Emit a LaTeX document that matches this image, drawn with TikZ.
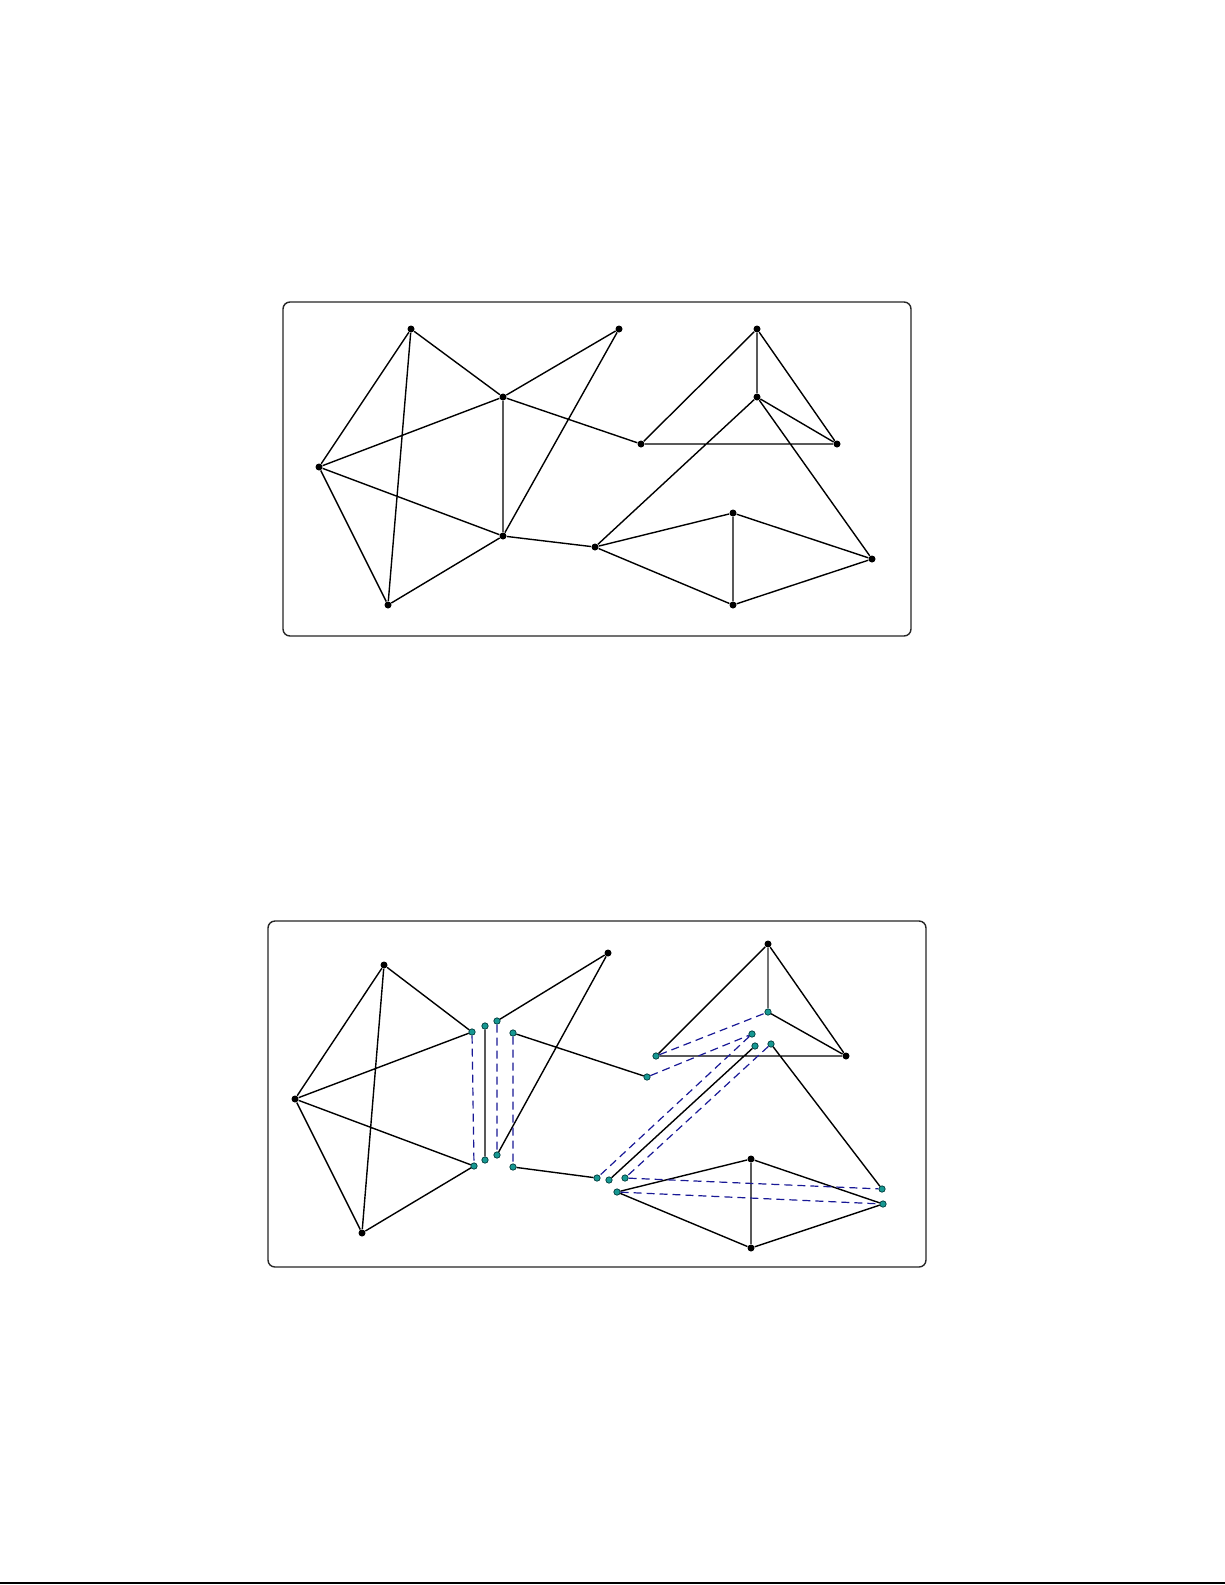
\documentclass[tikz,border=0pt]{standalone}
\begin{document}
\begin{tikzpicture}[x=0.5pt,y=-0.5pt,
  edge/.style={line width=0.7pt,black},
  cut/.style={line width=0.6pt,draw=dashblue,dash pattern=on 4pt off 2.5pt},
  frame/.style={line width=0.7pt,draw=black!85,rounded corners=3.5pt},
  bd/.style={circle,fill=black,inner sep=0pt,minimum size=3.5pt},
  td/.style={circle,fill=tealdot,draw=tealedge,line width=0.35pt,inner sep=0pt,minimum size=3.2pt}]
\definecolor{tealdot}{RGB}{22,152,146}
\definecolor{tealedge}{RGB}{0,60,60}
\definecolor{dashblue}{RGB}{25,25,150}
\useasboundingbox (0,0) rectangle (1225,1585);
\fill[white] (0,0) rectangle (1225,1585);
% page rule at the bottom
\draw[line width=1pt] (0,1583) -- (1225,1583);

% ---------- top graph ----------
\draw[frame] (283,302) rectangle (911,636);
\node[bd] (tA) at (411,329) {};
\node[bd] (tL) at (319,467) {};
\node[bd] (tB) at (388,605) {};
\node[bd] (tC) at (503,397) {};
\node[bd] (tD) at (503,536) {};
\node[bd] (tE) at (619,329) {};
\node[bd] (tF) at (595,547) {};
\node[bd] (tG) at (641,444) {};
\node[bd] (tH) at (757,329) {};
\node[bd] (tI) at (757,397) {};
\node[bd] (tJ) at (837,444) {};
\node[bd] (tK) at (733,513) {};
\node[bd] (tM) at (733,605) {};
\node[bd] (tN) at (872,559) {};
\draw[edge] (tA)--(tL) (tA)--(tB) (tA)--(tC) (tL)--(tC) (tL)--(tD) (tL)--(tB)
  (tB)--(tD) (tC)--(tD) (tC)--(tE) (tE)--(tD) (tC)--(tG) (tD)--(tF)
  (tG)--(tH) (tG)--(tJ) (tH)--(tI) (tH)--(tJ) (tI)--(tJ) (tI)--(tF) (tI)--(tN)
  (tF)--(tK) (tF)--(tM) (tK)--(tM) (tK)--(tN) (tM)--(tN);

% ---------- bottom graph ----------
\draw[frame] (268,921) rectangle (926,1267);
\node[bd] (bA) at (384,965) {};
\node[bd] (bL) at (295,1099) {};
\node[bd] (bB) at (362,1233) {};
\node[bd] (bE) at (608,953) {};
\node[bd] (bH) at (768,944) {};
\node[bd] (bJ) at (846,1056) {};
\node[bd] (bK) at (751,1159) {};
\node[bd] (bM) at (751,1248) {};
\node[td] (c1) at (472,1032) {};
\node[td] (c2) at (485,1026) {};
\node[td] (c3) at (497,1021) {};
\node[td] (c4) at (513,1033) {};
\node[td] (d1) at (474,1166) {};
\node[td] (d2) at (485,1160) {};
\node[td] (d3) at (497,1155) {};
\node[td] (d4) at (513,1167) {};
\node[td] (f1) at (597,1178) {};
\node[td] (f2) at (609,1180) {};
\node[td] (f3) at (625,1178) {};
\node[td] (f4) at (617,1192) {};
\node[td] (g1) at (656,1056) {};
\node[td] (g2) at (647,1077) {};
\node[td] (i1) at (768,1012) {};
\node[td] (i2) at (752,1034) {};
\node[td] (i3) at (755,1046) {};
\node[td] (i4) at (771,1044) {};
\node[td] (n1) at (882,1189) {};
\node[td] (n2) at (883,1204) {};
\draw[edge] (bA)--(bL) (bA)--(bB) (bA)--(c1) (bL)--(c1) (bL)--(d1) (bL)--(bB)
  (bB)--(d1) (c2)--(d2) (c3)--(bE) (bE)--(d3) (c4)--(g2) (d4)--(f1)
  (g1)--(bH) (g1)--(bJ) (bH)--(bJ) (i1)--(bJ) (i3)--(f2) (i4)--(n1)
  (f4)--(bK) (f4)--(bM) (bK)--(bM) (bK)--(n2) (bM)--(n2);
\draw[line width=0.7pt,black!55] (bH)--(i1);
\draw[cut] (c1)--(d1) (c3)--(d3) (c4)--(d4) (g1)--(i1) (g2)--(i2) (i2)--(f1)
  (i4)--(f3) (f3)--(n1) (f4)--(n2);
\end{tikzpicture}
\end{document}
